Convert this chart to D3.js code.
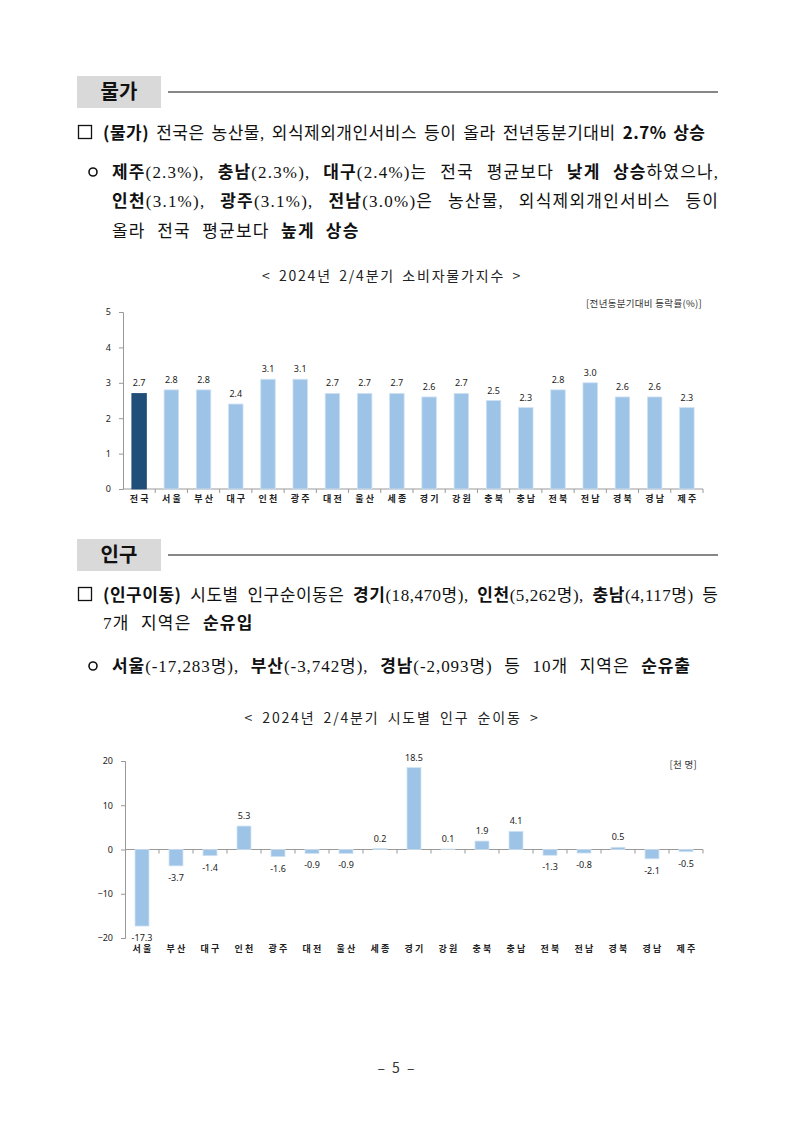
<!DOCTYPE html>
<html>
<head>
<meta charset="utf-8">
<script src="https://cdn.jsdelivr.net/npm/d3@7"></script>
<style>
  body { margin: 0; background: #fff; }
  svg { display: block; }
  .body-text { font-family: "Liberation Serif", "Noto Sans CJK KR", serif; font-size: 17px; fill: #111; }
  .bold { font-family: "Noto Sans CJK KR", sans-serif; font-weight: 700; }
  .axis text { font-family: "Noto Sans", "Liberation Sans", sans-serif; font-size: 9px; fill: #222; }
  .cat { font-family: "Noto Sans CJK KR", sans-serif; font-size: 9px; font-weight: 700; fill: #222; letter-spacing: 2.2px; }
  .val { font-family: "Noto Sans", "Liberation Sans", sans-serif; font-size: 9px; fill: #222; }
</style>
</head>
<body>
<div id="page"></div>
<script>
// 소비자물가 (전년동분기대비 %)
const cpiRegions = ['전국', '서울', '부산', '대구', '인천', '광주', '대전', '울산', '세종',
    '경기', '강원', '충북', '충남', '전북', '전남', '경북', '경남', '제주'];
const cpiValues = [2.7, 2.8, 2.8, 2.4, 3.1, 3.1, 2.7, 2.7, 2.7, 2.6, 2.7, 2.5, 2.3, 2.8, 3.0, 2.6, 2.6, 2.3];
const cpiTicks = [0, 1, 2, 3, 4, 5];

// 인구 순이동 (천 명)
const popRegions = ['서울', '부산', '대구', '인천', '광주', '대전', '울산', '세종',
    '경기', '강원', '충북', '충남', '전북', '전남', '경북', '경남', '제주'];
const popValues = [-17.3, -3.7, -1.4, 5.3, -1.6, -0.9, -0.9, 0.2, 18.5, 0.1, 1.9, 4.1, -1.3, -0.8, 0.5, -2.1, -0.5];
const popTicks = [-20, -10, 0, 10, 20];

const W = 793, H = 1121;
const svg = d3.select('#page').append('svg').attr('width', W).attr('height', H);

// section header: gray box + rule
function sectionHeader(label, y) {
    svg.append('rect').attr('x', 77).attr('y', y - 16).attr('width', 84).attr('height', 32).attr('fill', '#d9d9d9');
    svg.append('text').attr('x', 119).attr('y', y + 7).attr('text-anchor', 'middle')
        .style('font-family', '"Noto Sans CJK KR", sans-serif').style('font-weight', 700)
        .style('font-size', '20px').attr('fill', '#111').text(label);
    svg.append('line').attr('x1', 168).attr('x2', 718).attr('y1', y).attr('y2', y)
        .attr('stroke', '#111').attr('stroke-width', 1);
}

// one line of body text; stretched to targetRight with letter + word spacing
function textLine(segs, x, y, targetRight) {
    const t = svg.append('text').attr('class', 'body-text').attr('x', x).attr('y', y);
    segs.forEach(([s, b]) => {
        t.append('tspan').attr('class', b ? 'bold' : null).text(s);
    });
    const str = segs.map(d => d[0]).join('');
    const spaces = str.split(' ').length - 1;
    if (targetRight) {
        const w = t.node().getComputedTextLength();
        const extra = targetRight - x - w;
        const ls = Math.max(0, Math.min(1.6, extra * 0.55 / (str.length - 1)));
        t.style('letter-spacing', ls + 'px');
        const w2 = t.node().getComputedTextLength() - ls;
        if (spaces > 0) t.style('word-spacing', ((targetRight - x - w2) / spaces) + 'px');
    } else {
        t.style('letter-spacing', '1.2px').style('word-spacing', '6px');
    }
    return t;
}

function squareBullet(y) {
    svg.append('rect').attr('x', 78.5).attr('y', y - 13.5).attr('width', 13).attr('height', 13)
        .attr('fill', 'none').attr('stroke', '#111').attr('stroke-width', 1.3);
}
function circleBullet(y) {
    svg.append('circle').attr('cx', 93).attr('cy', y - 6).attr('r', 4)
        .attr('fill', 'none').attr('stroke', '#111').attr('stroke-width', 1.6);
}

// ---- 물가 ----
sectionHeader('물가', 92);
squareBullet(139);
textLine([['(물가)', 1], [' 전국은 농산물, 외식제외개인서비스 등이 올라 전년동분기대비 ', 0], ['2.7% 상승', 1]], 103, 139, 705);
circleBullet(178);
textLine([['제주', 1], ['(2.3%), ', 0], ['충남', 1], ['(2.3%), ', 0], ['대구', 1], ['(2.4%)는 전국 평균보다 ', 0],
    ['낮게 상승', 1], ['하였으나,', 0]], 112, 178, 718);
textLine([['인천', 1], ['(3.1%), ', 0], ['광주', 1], ['(3.1%), ', 0], ['전남', 1], ['(3.0%)은 농산물, 외식제외개인서비스 등이', 0]],
    112, 207, 718);
textLine([['올라 전국 평균보다 ', 0], ['높게 상승', 1]], 112, 237);

// ---- 인구 ----
sectionHeader('인구', 555);
squareBullet(601);
textLine([['(인구이동)', 1], [' 시도별 인구순이동은 ', 0], ['경기', 1], ['(18,470명), ', 0], ['인천', 1], ['(5,262명), ', 0],
    ['충남', 1], ['(4,117명) 등', 0]], 103, 601, 718);
textLine([['7개 지역은 ', 0], ['순유입', 1]], 103, 629);
circleBullet(672);
textLine([['서울', 1], ['(-17,283명), ', 0], ['부산', 1], ['(-3,742명), ', 0], ['경남', 1], ['(-2,093명) 등 10개 지역은 ', 0],
    ['순유출', 1]], 112, 672, 690);

// ---- chart helper ----
function barChart(opt) {
    const x = d3.scaleBand().domain(opt.cats).range([opt.x0, opt.x1])
        .paddingInner(opt.pad).paddingOuter(opt.pad / 2);
    const y = d3.scaleLinear().domain(opt.domain).range([opt.yBottom, opt.yTop]);
    const g = svg.append('g');

    // title: letters spaced out, gaps widened to reach the width
    const title = svg.append('text').attr('x', opt.titleX).attr('y', opt.titleY).attr('text-anchor', 'middle')
        .style('font-family', '"Noto Sans CJK KR", sans-serif').style('font-size', '14px')
        .style('letter-spacing', '1.8px').attr('fill', '#222').text(opt.title);
    const tw = title.node().getComputedTextLength();
    const gaps = opt.title.split(' ').length - 1;
    title.style('word-spacing', Math.max(0, (opt.titleW - tw) / gaps) + 'px');

    svg.append('text').attr('x', opt.unitX).attr('y', opt.unitY).attr('text-anchor', 'end')
        .style('font-family', '"Noto Sans CJK KR", sans-serif').style('font-size', '9.5px')
        .style('letter-spacing', '0.3px').attr('fill', '#333').text(opt.unit);

    // y axis
    const ya = g.append('g').attr('class', 'axis').attr('transform', `translate(${opt.x0},0)`)
        .call(d3.axisLeft(y).tickValues(opt.ticks).tickSize(4).tickPadding(8).tickFormat(d3.format('d')));
    ya.select('.domain').attr('stroke', '#999');
    ya.selectAll('.tick line').attr('stroke', '#999');

    // x baseline at zero with category separators
    const xa = g.append('g').attr('class', 'axis').attr('transform', `translate(0,${y(0)})`);
    xa.append('line').attr('x1', opt.x0).attr('x2', opt.x1).attr('stroke', '#999');
    xa.selectAll('.sep').data(opt.cats).join('line').attr('class', 'sep')
        .attr('x1', d => x(d) + x.bandwidth() + x.step() * opt.pad / 2)
        .attr('x2', d => x(d) + x.bandwidth() + x.step() * opt.pad / 2)
        .attr('y1', 0).attr('y2', 4).attr('stroke', '#999');

    // bars
    g.selectAll('.bar').data(opt.vals).join('rect').attr('class', 'bar')
        .attr('x', (d, i) => x(opt.cats[i]))
        .attr('width', x.bandwidth())
        .attr('y', d => y(Math.max(0, d)))
        .attr('height', d => Math.abs(y(d) - y(0)))
        .attr('fill', (d, i) => opt.cats[i] === opt.highlight ? '#1f4e79' : '#9dc3e6')
        .attr('stroke', (d, i) => opt.cats[i] === opt.highlight ? '#1f4e79' : '#cfe2f3')
        .attr('stroke-width', 0.8);

    // value labels
    g.selectAll('.val').data(opt.vals).join('text').attr('class', 'val')
        .attr('x', (d, i) => x(opt.cats[i]) + x.bandwidth() / 2)
        .attr('y', d => d >= 0 ? y(d) - 7 : y(d) + 15)
        .attr('text-anchor', 'middle')
        .text(d => d.toFixed(1));

    // category labels
    g.selectAll('.cat').data(opt.cats).join('text').attr('class', 'cat')
        .attr('x', d => x(d) + x.bandwidth() / 2 + 1.1)
        .attr('y', opt.catY)
        .attr('text-anchor', 'middle')
        .text(d => d);
}

barChart({
    cats: cpiRegions, vals: cpiValues, ticks: cpiTicks, domain: [0, 5],
    x0: 123, x1: 703, yBottom: 489, yTop: 312, pad: 0.55, highlight: '전국',
    title: '< 2024년 2/4분기 소비자물가지수 >', titleX: 392, titleY: 281, titleW: 260,
    unit: '[전년동분기대비 등락률(%)]', unitX: 702, unitY: 307, catY: 502
});

barChart({
    cats: popRegions, vals: popValues, ticks: popTicks, domain: [-20, 20],
    x0: 125, x1: 703, yBottom: 938, yTop: 761, pad: 0.59, highlight: null,
    title: '< 2024년 2/4분기 시도별 인구 순이동 >', titleX: 392, titleY: 723, titleW: 295,
    unit: '[천 명]', unitX: 697, unitY: 768, catY: 952
});

// page number
svg.append('text').attr('x', 396).attr('y', 1073).attr('text-anchor', 'middle')
    .style('font-family', '"Noto Sans CJK KR", sans-serif').style('font-size', '14px')
    .style('word-spacing', '4px').attr('fill', '#333').text('– 5 –');
</script>
</body>
</html>
